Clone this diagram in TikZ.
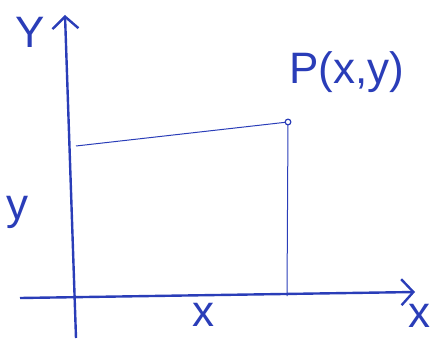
\documentclass[tikz,border=0pt]{standalone}
\usepackage{fontspec}
\setmainfont{Liberation Sans}
\usetikzlibrary{arrows.meta, positioning}
\definecolor{cink}{HTML}{2A3DB8}
\tikzset{
  every picture/.style={line width=1pt},
  axis/.style={-{Straight Barb[length=12pt, width=26pt]}, draw=cink, line width=2.4pt},
  guide/.style={draw=cink, line width=1pt},
  lbl/.style={text=cink, font=\fontsize{44}{44}\selectfont, inner sep=0pt},
}

\begin{document}
\begin{tikzpicture}[x=1pt, y=1pt]
  \useasboundingbox (0,0) rectangle (433,338);
  % ---- axes
  \coordinate (ybot) at (76,0);
  \coordinate (ytop) at (65,323);
  \coordinate (xleft) at (20,40);
  \coordinate (xright) at (415,46);
  \draw[axis] (ybot) -- (ytop);
  \draw[axis] (xleft) -- (xright);
  % ---- the point and its guides
  \coordinate (P) at (288,216);
  \coordinate (Py) at (76,192);
  \coordinate (Px) at (287,42);
  \draw[guide] (Py) -- (P);
  \draw[guide] (P) -- (Px);
  \node[circle, draw=cink, line width=1.2pt, fill=white, inner sep=2pt] (dot) at (P) {};
  % ---- labels
  \node[lbl] (ylab) at (30,306) {Y};
  \node[lbl] (plab) at (347,266) {P(x,y)};
  \node[lbl] (yval) at (17,126) {y};
  \node[lbl] (xval) at (203,23) {x};
  \node[lbl] (xlab) at (419,22) {x};
\end{tikzpicture}
\end{document}
